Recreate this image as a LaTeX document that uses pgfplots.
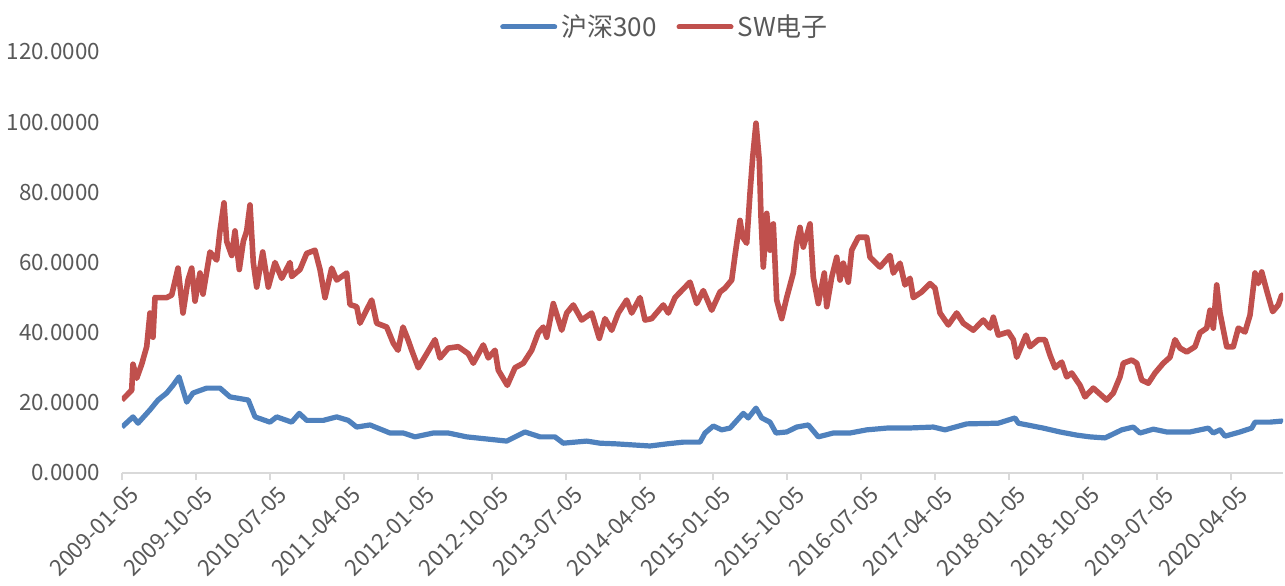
\documentclass[border=0pt]{standalone}
\usepackage{fontspec}
\setmainfont{Noto Sans CJK SC}
\usepackage{pgfplots}
\pgfplotsset{compat=1.18}
\definecolor{cblue}{HTML}{4F81BD}
\definecolor{cred}{HTML}{C0504D}
\definecolor{ctext}{HTML}{595959}
\definecolor{caxis}{HTML}{D9D9D9}
\begin{document}
\begin{tikzpicture}
\begin{axis}[
  scale only axis, width=580.5pt, height=210.5pt,
  xmin=0, xmax=1161, ymin=0, ymax=120,
  axis x line=bottom, axis y line=left,
  x axis line style={-, color=caxis, line width=1pt},
  y axis line style={draw=none},
  xtick={0,73.93,147.87,221.8,295.73,369.67,443.6,517.53,591.47,665.4,739.33,813.27,887.2,961.13,1035.07,1109},
  xticklabels={2009-01-05,2009-10-05,2010-07-05,2011-04-05,2012-01-05,2012-10-05,2013-07-05,2014-04-05,2015-01-05,2015-10-05,2016-07-05,2017-04-05,2018-01-05,2018-10-05,2019-07-05,2020-04-05},
  ytick={0,20,40,60,80,100,120},
  yticklabels={0.0000,20.0000,40.0000,60.0000,80.0000,100.0000,120.0000},
  tick align=outside, major tick length=3.5pt,
  xtick style={color=caxis, line width=1pt},
  ytick style={draw=none},
  tick label style={font=\fontsize{11.2}{13}\selectfont, text=ctext},
  xticklabel style={rotate=45, anchor=north east, inner sep=1pt, xshift=2pt, yshift=-3pt},
  yticklabel style={xshift=-4pt},
  legend columns=2,
  legend style={at={(0.4686,1.0594)}, anchor=center, draw=none, fill=none,
    font=\fontsize{13}{15}\selectfont, text=ctext,
    /tikz/every even column/.append style={column sep=8pt}},
  legend image code/.code={\draw[#1, line width=2.5pt, line cap=round] (0pt,0pt) -- (26pt,0pt);},
  every axis plot/.append style={line join=round},
]
\addplot[cblue, line width=2.6pt] coordinates {
(0,13.1)(11,16)(16,14.2)(28,18)(36,20.8)(44.7,22.8)(51,25)(57,27.4)(64.7,20.2)(71,22.8)
(84.7,24.2)(98,24.2)(108,21.7)(126.3,20.8)(133,16)(148,14.5)(154.7,16)(169.7,14.5)(177.3,17)(184.7,15)
(201.3,15)(214.7,16)(226.3,15)(234.7,13.1)(248,13.7)(268,11.4)(281.3,11.4)(293,10.3)(311.3,11.4)(326.3,11.4)
(344.7,10.3)(364.7,9.7)(384.7,9.1)(403,11.7)(418,10.3)(433,10.3)(441.3,8.5)(464.7,9.1)(478,8.5)(494.7,8.3)
(511.3,8)(528,7.7)(544.7,8.3)(561.3,8.8)(578,8.8)(583,11.4)(591.3,13.4)(599.7,12.3)(608,12.8)(621.3,17)
(626.3,15.7)(634,18.5)(639.7,15.7)(648,14.5)(654,11.4)(664.7,11.7)(674.7,13.1)(686.3,13.7)(696.3,10.3)(711.3,11.4)
(728,11.4)(744.7,12.3)(764.7,12.8)(784.7,12.8)(811.3,13.1)(823,12.3)(844.7,14)(876.3,14.2)(893,15.7)(896.3,14.2)
(921.3,12.8)(938,11.7)(954.7,10.8)(968,10.3)(983,10)(999.7,12.3)(1011.3,13.1)(1018,11.4)(1031.3,12.5)(1044.7,11.7)
(1068,11.7)(1086.3,12.8)(1091.3,11.4)(1098,12.3)(1103,10.5)(1118,11.7)(1129.7,12.8)(1133,14.5)(1148,14.5)(1159.7,14.8)(1161,14.6)
};
\addlegendentry{沪深300}
\addplot[cred, line width=2.8pt] coordinates {
(0,20.8)(9.7,23.6)(11,31)(14.7,27)(19.7,31)(24.7,36)(28,45.6)(31,38.7)(33,50)(44.7,50)
(49.7,50.7)(56,58.4)(61,45.6)(66,55)(69.7,58.4)(73,49)(78,57)(81,51)(88,63)(94.7,60.7)
(98,69)(102,77)(104.7,66)(109.7,62)(113,69)(117.3,58)(121.3,66)(124.7,69)(128,76.4)(131.3,60)
(134.7,53)(140.7,63)(146.3,53)(153,60)(159.7,55.5)(168,60)(169.7,56)(178,58)(184.7,62.6)(193,63.5)
(198,58)(203,50)(209.7,58.4)(214.7,55)(224.7,57)(228,48)(234.7,47.4)(238,42.7)(243,45.6)(249.7,49.3)
(254.7,42.7)(264.7,41.6)(271.3,37)(276,35)(281,41.6)(286,38)(289.7,35)(296.3,30)(304.7,34)(313,38)
(318,32.8)(326.3,35.6)(336.3,36)(346.3,34)(351.3,31.3)(361.3,36.5)(366.3,32.8)(373,35)(376.3,29.3)(385.3,25)
(393,30)(401.3,31.3)(409.7,35)(416.3,40)(421.3,41.6)(424.7,38.7)(431.3,48.3)(439.7,40.7)(444.7,45.6)(451.3,47.9)
(459.7,43.6)(469.7,45.6)(477.3,38.4)(483,44)(489.7,40.7)(496.3,45.6)(504.7,49.3)(509.7,45.6)(518,50)(523,43.6)
(529.7,44)(541.3,47.9)(546.3,45.6)(553,50)(559.7,52)(568,54.4)(574.7,48.3)(581.3,52)(589.7,46.4)(598,51.6)
(603,52.7)(609.7,55)(613,62)(618,72)(620.7,67.2)(624.7,65.5)(628,79.8)(630.7,90)(634,99.7)(637.3,89)
(639,73)(641.3,58.7)(644.7,74)(648,63.5)(651.3,71)(654.7,49.3)(659.7,44)(664.7,50)(671.3,57)(674.7,65.5)
(678,70)(681.3,64.4)(688,71)(691.3,55.8)(696.3,48.3)(702.3,57)(704.7,47.4)(709.7,55.8)(714.7,61.5)(718,55)
(721.3,59.8)(726.3,54.4)(729.7,63.5)(736.3,67.2)(744.7,67.2)(748,61.5)(758,58.7)(768,62)(771.3,57)(778,59.8)
(783,53.6)(788,55.5)(791.3,50)(799.7,51.6)(808,54)(813,52.7)(818,45.6)(826.3,42.2)(834.7,45.6)(841.3,42.7)
(851.3,40.7)(861.3,43.6)(868,41.3)(871.3,44.4)(876.3,39.3)(886.3,40.2)(891.3,38)(894.7,33)(904,39.3)(908,36)
(916.3,38)(923,38)(928,33.6)(933,30)(939.7,31.6)(944.7,27.4)(949.7,28.5)(958,25)(963,21.7)(971.3,24.2)
(984.7,20.8)(991.3,22.8)(998,27.4)(1001.3,31.3)(1009.7,32.2)(1014.7,31.3)(1019.7,26.5)(1026.3,25.6)(1033,28.5)(1041.3,31.3)
(1048,33)(1053,38)(1058,35.6)(1064.7,34.5)(1073,36)(1078,40)(1084.7,41.3)(1088,46.4)(1091.3,41.3)(1094.7,53.6)
(1098,45.6)(1104.7,36)(1111.3,36)(1116.3,41.3)(1123,40.2)(1128,45)(1133,57)(1136.3,54)(1139.7,57.3)(1144.7,52)
(1150.7,46)(1156.3,47.9)(1159.7,50.7)(1161,49.3)
};
\addlegendentry{SW电子}
\end{axis}
\pgfresetboundingbox
\useasboundingbox (-61pt,-56pt) rectangle (581.5pt,236.5pt);
\end{tikzpicture}
\end{document}
